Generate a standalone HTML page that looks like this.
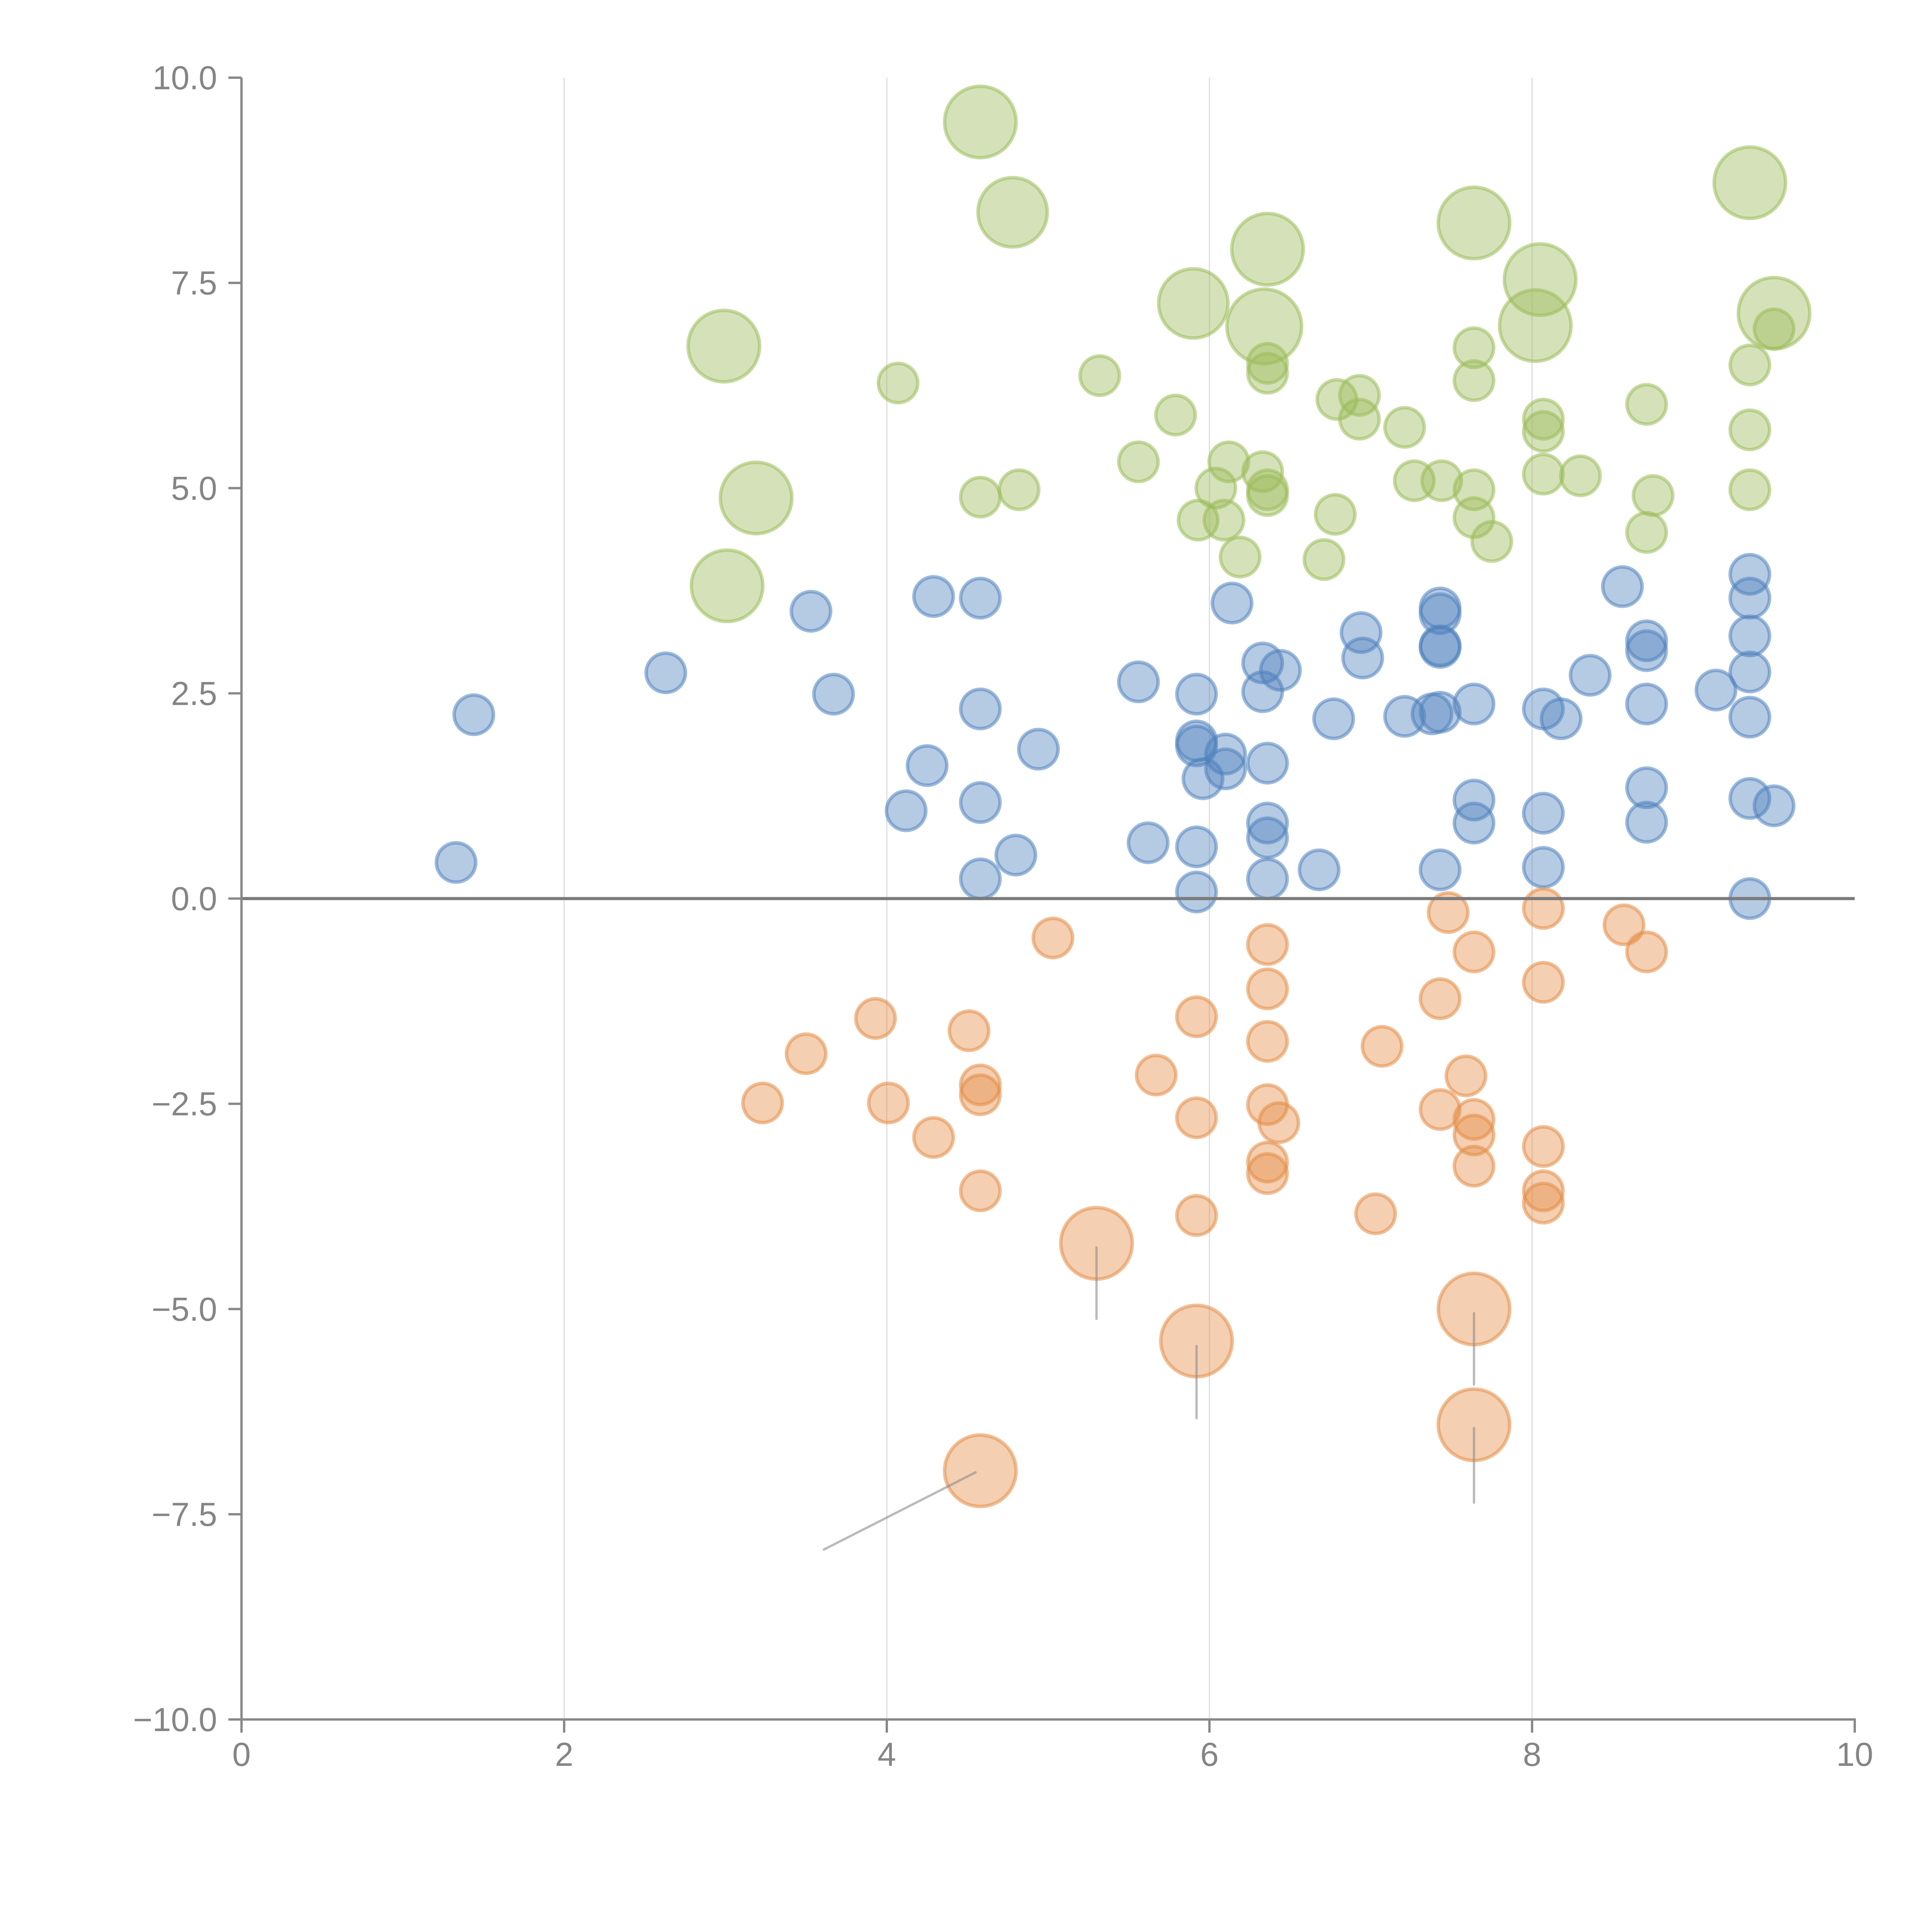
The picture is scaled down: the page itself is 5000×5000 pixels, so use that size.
<!DOCTYPE html>
<html><head><meta charset="utf-8"><style>
html,body{margin:0;padding:0;background:#fff;}
svg{display:block;}
text{font-family:"Liberation Sans",Arial,sans-serif;fill:#858585;}
</style></head>
<body>
<svg id="chart" width="5000" height="5000" viewBox="0 0 5000 5000" xmlns="http://www.w3.org/2000/svg">
<g id="grid"></g>
<g id="bubbles"></g>
<g id="leaders"></g>
<g id="axes"></g>
</svg>
<script>
const xTicks = [0, 2, 4, 6, 8, 10];
const yTicks = [10, 7.5, 5, 2.5, 0, -2.5, -5, -7.5, -10];
const yTickLabels = ["10.0", "7.5", "5.0", "2.5", "0.0", "\u22122.5", "\u22125.0", "\u22127.5", "\u221210.0"];

const blueX = [1.33,1.44,2.63,3.53,3.67,4.12,4.25,4.29,4.58,4.58,4.58,4.58,4.80,4.94,5.56,5.62,5.92,5.92,5.92,5.96,5.92,5.92,6.10,6.10,6.14,6.33,6.33,6.36,6.36,6.36,6.36,6.44,6.68,6.77,6.94,6.95,7.21,7.38,7.43,7.43,7.43,7.43,7.43,7.43,7.64,7.64,7.64,8.07,8.07,8.07,8.18,8.36,8.56,8.71,8.71,8.71,8.71,8.71,9.14,9.35,9.35,9.35,9.35,9.35,9.35,9.35,9.50];
const blueY = [0.44,2.24,2.75,3.50,2.49,1.07,1.62,3.68,3.66,2.31,1.17,0.24,0.53,1.82,2.64,0.68,2.49,1.92,1.86,1.46,0.63,0.08,1.76,1.58,3.60,2.87,2.52,1.65,0.92,0.74,0.24,2.78,0.35,2.19,3.24,2.93,2.22,2.25,3.54,3.47,3.08,3.06,2.27,0.35,2.37,1.20,0.92,2.31,1.04,0.38,2.19,2.72,3.80,3.14,3.02,2.37,1.35,0.93,2.54,3.95,3.66,3.20,2.76,2.21,1.22,0.00,1.13];
const blueSize = blueX.map(() => 10);

const greenX = [4.07,4.58,4.82,5.32,5.56,5.79,5.93,6.04,6.09,6.12,6.19,6.33,6.36,6.36,6.36,6.36,6.71,6.78,6.79,6.93,6.93,7.21,7.27,7.44,7.64,7.64,7.64,7.64,7.75,8.07,8.07,8.07,8.30,8.71,8.71,8.75,9.35,9.35,9.35,9.50,
  4.58,4.78,2.99,3.19,3.01,5.90,6.36,6.34,7.64,8.05,8.02,9.35,9.50];
const greenY = [6.28,4.89,4.98,6.37,5.32,5.89,4.61,5.00,4.61,5.32,4.16,5.20,6.52,6.40,4.98,4.91,4.13,4.68,6.08,6.13,5.84,5.74,5.09,5.09,6.71,6.31,4.98,4.64,4.35,5.84,5.69,5.17,5.15,6.02,4.46,4.91,6.50,5.71,4.98,6.94,
  9.46,8.36,6.73,4.88,3.81,7.25,7.91,6.97,8.23,7.54,6.98,8.72,7.13];
const greenSize = [10,10,10,10,10,10,10,10,10,10,10,10,10,10,10,10,10,10,10,10,10,10,10,10,10,10,10,10,10,10,10,10,10,10,10,10,10,10,10,10,
  33,31,33,33,33,31,33,36,33,33,33,33,33];

const orangeX = [5.03,3.93,4.51,3.50,3.23,4.01,4.58,4.58,4.29,4.58,5.67,5.92,5.92,5.92,6.36,6.36,6.36,6.36,6.36,6.36,6.43,7.07,7.03,7.48,7.43,7.59,7.43,7.64,7.64,7.64,7.64,8.07,8.07,8.07,8.07,8.07,8.57,8.71,
  5.30,5.92,7.64,7.64,4.58];
const orangeY = [-0.48,-1.46,-1.61,-1.89,-2.49,-2.49,-2.27,-2.39,-2.91,-3.56,-2.15,-1.44,-2.67,-3.86,-0.56,-1.10,-1.74,-2.51,-3.21,-3.35,-2.73,-1.80,-3.84,-0.17,-1.22,-2.16,-2.57,-0.65,-2.69,-2.88,-3.26,-0.12,-1.02,-3.02,-3.56,-3.71,-0.32,-0.65,
  -4.20,-5.39,-5.00,-6.41,-6.97];
const orangeSize = [10,10,10,10,10,10,10,10,10,10,10,10,10,10,10,10,10,10,10,10,10,10,10,10,10,10,10,10,10,10,10,10,10,10,10,10,10,10,
  33,33,33,33,33];

const leaderFromX = [5.30,5.92,7.64,7.64,4.55];
const leaderFromY = [-4.25,-5.45,-5.05,-6.45,-6.99];
const leaderToX = [5.30,5.92,7.64,7.64,3.61];
const leaderToY = [-5.12,-6.33,-5.92,-7.36,-7.93];

const X0 = 625, X1 = 4800, Y0 = 201, Y1 = 4450;
const sx = v => X0 + (v - 0) / 10 * (X1 - X0);
const sy = v => Y0 + (10 - v) / 20 * (Y1 - Y0);
const sr = s => 16.1 * Math.sqrt(s);
const NS = "http://www.w3.org/2000/svg";
function mk(tag, parent, attrs) {
  const e = document.createElementNS(NS, tag);
  for (const k in attrs) e.setAttribute(k, attrs[k]);
  parent.appendChild(e);
  return e;
}
const grid = document.getElementById('grid');
const bub = document.getElementById('bubbles');
const lead = document.getElementById('leaders');
const axes = document.getElementById('axes');

[2,4,6,8].forEach(v => {
  const l = mk('line', grid, {x1: sx(v), x2: sx(v), y1: sy(10), y2: sy(-10), stroke: '#dcdcdc', 'stroke-width': 3});
  
  
});

function series(xs, ys, ss, rgb, name) {
  for (let i = 0; i < xs.length; i++) {
    const c = mk('circle', bub, {cx: sx(xs[i]), cy: sy(ys[i]), r: sr(ss[i]),
      fill: 'rgba(' + rgb + ',0.42)', stroke: 'rgba(' + rgb + ',0.55)', 'stroke-width': 9});
    
    
  }
}
series(blueX, blueY, blueSize, '79,129,189', 'blue-bubble');
series(greenX, greenY, greenSize, '155,187,89', 'green-bubble');
series(orangeX, orangeY, orangeSize, '228,140,70', 'orange-bubble');

for (let i = 0; i < leaderFromX.length; i++) {
  const l = mk('line', lead, {x1: sx(leaderFromX[i]), y1: sy(leaderFromY[i]), x2: sx(leaderToX[i]), y2: sy(leaderToY[i]),
    stroke: 'rgba(140,140,140,0.6)', 'stroke-width': 6, 'stroke-linecap': 'round'});
  
  
}

const z = mk('line', axes, {x1: sx(0), x2: sx(10), y1: sy(0), y2: sy(0), stroke: '#7a7a7a', 'stroke-width': 8});


const ya = mk('line', axes, {x1: sx(0), x2: sx(0), y1: sy(10), y2: sy(-10) + 3, stroke: '#888', 'stroke-width': 6});


const xa = mk('line', axes, {x1: sx(0) - 3, x2: sx(10) + 3, y1: sy(-10), y2: sy(-10), stroke: '#888', 'stroke-width': 6});



yTicks.forEach((v, i) => {
  const t = mk('line', axes, {x1: sx(0) - 34, x2: sx(0), y1: sy(v), y2: sy(v), stroke: '#888', 'stroke-width': 6});
  
  
  const tx = mk('text', axes, {x: sx(0) - 63, y: sy(v) + 30, 'text-anchor': 'end', 'font-size': 86});
  tx.textContent = yTickLabels[i];
  
  
});
xTicks.forEach(v => {
  const t = mk('line', axes, {x1: sx(v), x2: sx(v), y1: sy(-10), y2: sy(-10) + 34, stroke: '#888', 'stroke-width': 6});
  
  
  const tx = mk('text', axes, {x: sx(v), y: sy(-10) + 120, 'text-anchor': 'middle', 'font-size': 86});
  tx.textContent = String(v);
  
  
});
</script>
</body></html>
